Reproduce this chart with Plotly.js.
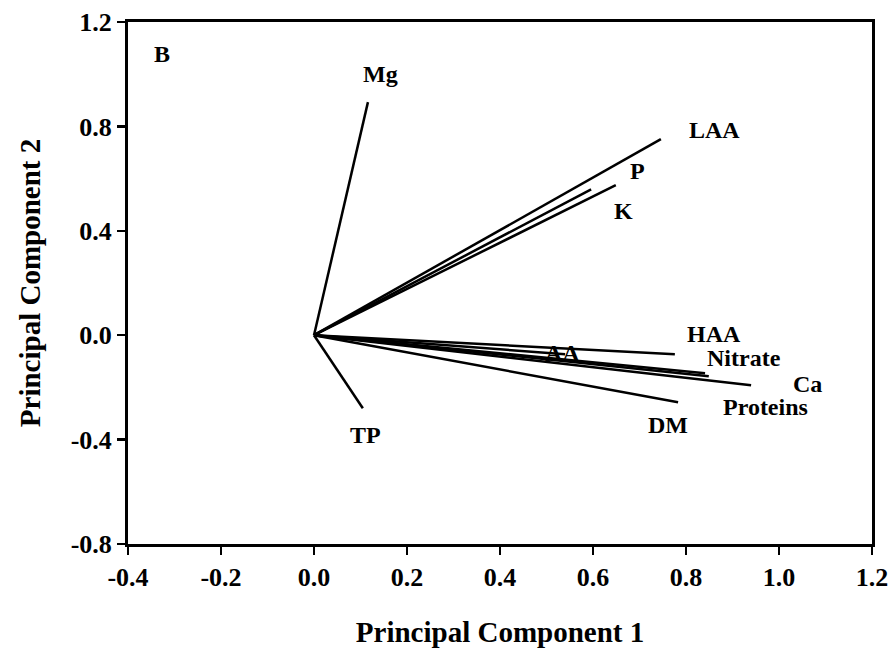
<!DOCTYPE html>
<html>
<head>
<meta charset="utf-8">
<script src="https://cdn.plot.ly/plotly-3.0.1.min.js"></script>
<style>html,body{margin:0;padding:0;background:#fff}#chart{width:890px;height:653px}</style>
</head>
<body>
<div id="chart"></div>
<script>
// Loadings (PC1, PC2)
var variables = ["Mg", "LAA", "P", "K", "HAA", "AA", "Nitrate", "Proteins", "Ca", "DM", "TP"];
var pc1 = [0.116, 0.746, 0.596, 0.649, 0.776, 0.540, 0.841, 0.849, 0.940, 0.783, 0.105];
var pc2 = [0.893, 0.751, 0.559, 0.575, -0.073, -0.073, -0.146, -0.157, -0.192, -0.257, -0.280];
// label anchor points
var labelText = ["Mg", "LAA", "P", "K", "HAA", "AA", "Nitrate", "Ca", "Proteins", "DM", "TP"];
var labelX = [0.142, 0.862, 0.695, 0.665, 0.860, 0.535, 0.925, 1.062, 0.970, 0.761, 0.110];
var labelY = [1.000, 0.785, 0.628, 0.475, 0.004, -0.069, -0.088, -0.188, -0.276, -0.345, -0.383];
var xTicks = [-0.4, -0.2, 0.0, 0.2, 0.4, 0.6, 0.8, 1.0, 1.2];
var yTicks = [-0.8, -0.4, 0.0, 0.4, 0.8, 1.2];

var fontFam = '"Liberation Serif", "Times New Roman", serif';
var traces = variables.map(function (v, i) {
  return {
    x: [0, pc1[i]], y: [0, pc2[i]], mode: 'lines', name: v,
    line: {color: '#000', width: 2.5}, hoverinfo: 'name', showlegend: false
  };
});
var annotations = labelText.map(function (t, i) {
  return {x: labelX[i], y: labelY[i], xref: 'x', yref: 'y', text: '<b>' + t + '</b>',
    showarrow: false, font: {family: fontFam, size: 24, color: '#000'}};
});
annotations.push({x: -0.327, y: 1.077, xref: 'x', yref: 'y', text: '<b>B</b>', showarrow: false,
  font: {family: fontFam, size: 24, color: '#000'}});

var axisCommon = {
  showgrid: false, zeroline: false, showline: true, linecolor: '#000', linewidth: 3,
  mirror: true, ticks: 'outside', ticklen: 8, tickwidth: 2.5, tickcolor: '#000',
  tickfont: {family: fontFam, size: 26, color: '#000'}
};
function fmt(v) { return '<b>' + v.toFixed(1) + '</b>'; }
var layout = {
  width: 890, height: 653,
  margin: {l: 128, r: 18, t: 22, b: 109},
  paper_bgcolor: '#fff', plot_bgcolor: '#fff',
  xaxis: Object.assign({}, axisCommon, {
    range: [-0.4, 1.2], tickvals: xTicks, ticktext: xTicks.map(fmt),
    title: {text: '<b>Principal Component 1</b>', font: {family: fontFam, size: 29, color: '#000'}, standoff: 31}
  }),
  yaxis: Object.assign({}, axisCommon, {
    range: [-0.8, 1.2], tickvals: yTicks, ticktext: yTicks.map(fmt),
    title: {text: '<b>Principal Component 2</b>', font: {family: fontFam, size: 29, color: '#000'}, standoff: 22}
  }),
  annotations: annotations
};
Plotly.newPlot('chart', traces, layout, {displayModeBar: false, staticPlot: true});
</script>
</body>
</html>
